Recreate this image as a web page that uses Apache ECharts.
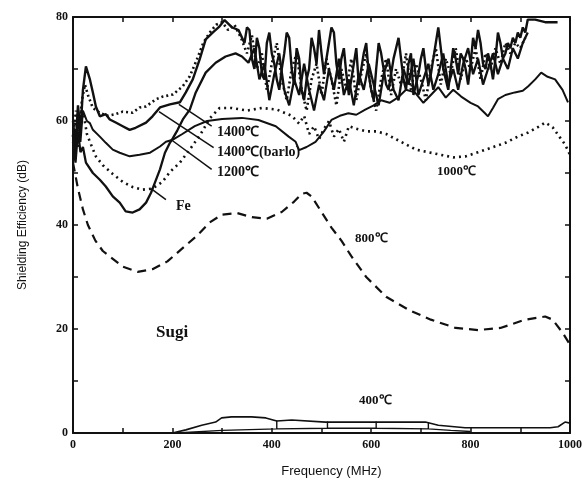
<!DOCTYPE html>
<html>
<head>
<meta charset="utf-8">
<script src="https://cdn.jsdelivr.net/npm/echarts@6/dist/echarts.min.js"></script>
<style>
html, body { margin: 0; padding: 0; background: #fff; }
#chart { width: 585px; height: 487px; }
</style>
</head>
<body>
<div id="chart"></div>
<script>
// 1400℃ (solid, top of band)
const f1400 = [0,5,10,15,20,26,34,40,46,54,66,74,86,100,114,126,147,160,175,195,215,227,241,255,267,281,295,305,320,333,
    345,350,355,360,365,370,375,380,385,390,395,400,405,410,415,420,425,430,435,440,445,450,455,460,465,470,475,480,485,490,495,
    500,505,510,515,520,525,530,535,540,545,550,555,560,565,570,575,580,585,590,595,600,605,610,615,620,625,630,635,640,645,
    650,655,660,665,670,675,680,685,690,695,700,705,710,715,720,725,730,735,740,745,750,755,760,765,770,775,780,785,790,795,
    800,805,810,815,820,825,830,835,840,845,850,855,860,865,870,875,880,885,890,895,900,905,910,915,930,950,975];
const db1400 = [60,55,63,58,66,70.5,68,65.5,62.8,60.9,61.3,60.3,59.7,59,58.3,58.7,59.7,60.9,62.6,63.2,63.6,65.5,68,71.9,75.7,77,78.2,79.4,78,77.5,
    75,78,77.5,72,70,76,74,69,68,75,77,73,71,68,66,70,73,77,76,70,67,74,72,66,64,68,70,76,74,71,77.5,
    73,69,72,75,78,77,71,68,72,74,69,65,68,71,74,67,70,73,75,69,66,64,70,75,73,70,67,66,69,72,
    74,76,72,68,66,71,73,65,67,69,72,74,70,67,69,72,75,78,74,70,68,66,70,74,72,69,73,72,70,67,
    71,76,74,77.5,75,71,70,73,71,68,72,77,75,72,73,75,74,76,75,77,76,78,77,79.5,79.5,79,79];

// 1400℃(barlo) (dotted)
const fBarlo = [0,6,12,18,24,30,40,55,70,85,100,120,134,147,167,181,201,221,235,250,262,275,288,300,312,325,338,350,360,370,380,390,400,410,420,430,440,450,460,470,480,490,500,510,520,530,540,550,560,570,580,590,600,610,620,630,640,650,660,670,680,690,700,710,720,730,740,750,760,770,780,790,800,810,820,830,840,850,860,870,880,890,900,910];
const dbBarlo = [57,62,58,64,67,65,62.5,61.5,61,61.3,61.8,61.6,62.6,62.8,64.2,64.7,65.1,66.7,68.6,72,75,77,78.5,79,77.5,78.5,76,73,76.5,70,73,66,71,75,68,64,70,73,66,62,68,71,65,72,68,63,70,66,72,64,69,73,66,62,68,72,65,70,67,73,66,71,68,64,70,74,67,72,69,74,68,72,70,74,68,73,70,74,71,75,73,75,74,76];

// 1200℃ (solid)
const f1200 = [0,5,10,15,20,28,34,40,54,66,80,94,114,134,155,175,187,201,220,245,270,300,340,373,408,434,448,455,470,488,505,520,537,554,570,588,605,620,637,655,670,688,705,720,735,750,765,781,800,815,829,835,845,855,870,889,905,916,930,942,955,970,985,996];
const db1200 = [59,54,61,56,62,60,59.6,58.3,57,55.8,54.5,53.9,53.2,53.5,53.9,55.1,56,56.4,57.5,59,60,60.4,60.6,60.2,59,57,56,54.4,55,56,58,60.2,61,61.5,61.2,62.2,63,64,63.5,64.6,66,65.5,63.5,65,66.5,64.5,66,64.7,63.5,62.8,61.5,60.9,62.5,64.2,65,65.5,65.8,66.7,68,69.3,68.5,68,66,63.6];

// Fe (solid)
const fFe = [0,5,10,15,20,26,40,54,66,80,94,106,120,134,147,157,165,175,185,195,201,210,221,235,247,267,287,307,327,340,353,365,375,385,395,405,415,425,435,445,455,465,475,485,495,505,515,525,535,545,555,565,575,585,595,605,615,625,635,645,655,665,675,685,695,705,715,725,735,745,755,765,775,785,795,805,815,825,835,845,855,865,875,885,895,905,915];
const dbFe = [56,52,58,54,55,52,50,48.7,47.4,45.5,44.3,42.6,42.4,43,44.3,46.2,48.2,50.7,53.9,55.8,56.7,58.2,60.3,62.2,65.5,69.3,71.2,72.4,73,72.4,71.2,74,68,71,64,69,73,66,63,68,65,71,66,62,67,64,70,66,72,65,68,63,69,66,71,67,63,69,72,66,64,70,67,72,65,68,71,66,69,73,67,70,66,71,74,69,72,67,70,73,69,72,70,74,72,75,77];

// 1000℃ (dotted)
const f1000 = [0,5,10,16,22,28,34,46,60,80,100,120,140,160,180,195,215,235,257,275,295,320,350,380,410,440,455,465,475,485,495,505,515,525,535,545,555,570,590,610,630,650,670,690,715,740,765,790,815,840,870,895,916,935,950,965,980,990,1000];
const db1000 = [57,60,55,62,61,57.5,56,53.2,51.5,49.8,48.3,47.3,46.8,47,48.3,50.2,52,54.5,57.5,60.5,62.5,62.5,62,62.5,62.2,61,59.5,61,57.5,59,56.5,58.5,60,57,58.5,56,59,58.5,58,58,57.5,56.5,55.5,54.5,54,53.5,53,53.2,54,54.8,55.8,57,57.8,58.8,59.7,58.8,56.8,55.5,53.5];

// 800℃ (dashed)
const f800 = [0,10,20,30,45,60,80,100,130,160,190,220,250,275,300,330,360,390,420,445,460,470,480,500,520,540,560,590,630,675,720,770,815,860,910,950,965,985,1000];
const db800 = [52,47,43,40,37,35,33.5,32,31,31.5,33,35.5,38,40.5,42,42.3,41.5,41.2,42.5,44.5,46,46.2,45.5,42.5,39.5,37,34,30,26.2,23.7,21.8,20.2,19.8,20.2,21.8,22.4,21.8,19.3,17];

// 400℃ (solid, upper edge and lower edge of the band)
const f400 = [200,227,259,287,299,319,359,388,410,440,508,574,608,635,709,735,789,960,976,990,1000];
const db400 = [0,0.6,1.5,2.1,2.9,3.1,3.1,2.9,2.3,2.5,2.1,2.1,2.1,2.1,2.1,1.5,1,1,1.2,2.1,1.9];
const f400lo = [207,300,410,410,410,512,512,512,610,610,610,715,715,715,760,800];
const db400lo = [0,0.5,0.8,2.4,0.8,0.9,2.2,0.9,0.9,2.2,0.9,0.8,2.1,0.8,0.5,0.3];

const xTicks = [0,200,400,600,800,1000];
const yTicks = [0,20,40,60,80];

// leader lines from labels to curves, [from, to] in data units
const leaders = [
    [[279,59],[213,63.2]],
    [[283,54.9],[173,61.8]],
    [[279,50.7],[199,56.3]],
    [[187,44.9],[157,47]]
];

function pairs(xs, ys) {
    return xs.map((x, i) => [x, ys[i]]);
}

const chart = echarts.init(document.getElementById('chart'));
const ink = '#111';
const labFont = { fontFamily: 'Liberation Serif', fontWeight: 'bold', fontSize: 13, fill: ink };

function lineSeries(name, data, type, width) {
    return {
        name: name,
        type: 'line',
        data: data,
        symbol: 'none',
        showSymbol: false,
        silent: true,
        lineStyle: { color: ink, width: width, type: type },
        z: 3
    };
}

const series = [
    lineSeries('1400℃', pairs(f1400, db1400), 'solid', 2.4),
    lineSeries('1400℃(barlo)', pairs(fBarlo, dbBarlo), [2, 3], 2.6),
    lineSeries('1200℃', pairs(f1200, db1200), 'solid', 2),
    lineSeries('Fe', pairs(fFe, dbFe), 'solid', 2.3),
    lineSeries('1000℃', pairs(f1000, db1000), [2, 4], 2.6),
    lineSeries('800℃', pairs(f800, db800), [9, 6], 2.2),
    lineSeries('400℃', pairs(f400, db400), 'solid', 1.6),
    lineSeries('400℃ low', pairs(f400lo, db400lo), 'solid', 1.4)
];
series[3].markLine = {
    silent: true,
    symbol: 'none',
    label: { show: false },
    lineStyle: { color: ink, width: 1.5, type: 'solid' },
    data: leaders.map(l => [{ coord: l[0] }, { coord: l[1] }])
};

const axisCommon = {
    axisLine: { show: true, onZero: false, lineStyle: { color: ink, width: 2 } },
    axisTick: { show: true, inside: true, length: 5, lineStyle: { color: ink, width: 1.5 } },
    minorTick: { show: true, splitNumber: 2, length: 5, lineStyle: { color: ink, width: 1.5 } },
    splitLine: { show: false }
};

const option = {
    animation: false,
    backgroundColor: '#fff',
    grid: { left: 73, right: 13, top: 17, bottom: 54 },
    xAxis: [
        Object.assign({
            type: 'value', min: 0, max: 1000, interval: 200, position: 'bottom',
            name: 'Frequency (MHz)', nameLocation: 'middle', nameGap: 32,
            nameTextStyle: { fontFamily: 'Liberation Sans', fontSize: 13, color: ink, padding: [0, 0, 0, 20] },
            axisLabel: {
                fontFamily: 'Liberation Serif', fontWeight: 'bold', fontSize: 12, color: ink, margin: 6,
                formatter: v => xTicks.includes(v) ? String(v) : ''
            }
        }, axisCommon),
        Object.assign({
            type: 'value', min: 0, max: 1000, interval: 200, position: 'top',
            axisLabel: { show: false }
        }, axisCommon)
    ],
    yAxis: [
        Object.assign({
            type: 'value', min: 0, max: 80, interval: 20, position: 'left',
            name: 'Shielding Efficiency (dB)', nameLocation: 'middle', nameGap: 44,
            nameTextStyle: { fontFamily: 'Liberation Sans', fontSize: 12, color: ink },
            axisLabel: {
                fontFamily: 'Liberation Serif', fontWeight: 'bold', fontSize: 12, color: ink, margin: 5,
                formatter: v => yTicks.includes(v) ? String(v) : ''
            }
        }, axisCommon),
        Object.assign({
            type: 'value', min: 0, max: 80, interval: 20, position: 'right',
            axisLabel: { show: false }
        }, axisCommon)
    ],
    series: series,
    graphic: [
        { type: 'text', left: 217, top: 125, style: Object.assign({ text: '1400℃' }, labFont, { fontSize: 14 }) },
        { type: 'text', left: 217, top: 145, style: Object.assign({ text: '1400℃(barlo)' }, labFont, { fontSize: 14 }) },
        { type: 'text', left: 217, top: 165, style: Object.assign({ text: '1200℃' }, labFont, { fontSize: 14 }) },
        { type: 'text', left: 176, top: 199, style: Object.assign({ text: 'Fe' }, labFont, { fontSize: 14 }) },
        { type: 'text', left: 437, top: 165, style: Object.assign({ text: '1000℃' }, labFont) },
        { type: 'text', left: 355, top: 232, style: Object.assign({ text: '800℃' }, labFont) },
        { type: 'text', left: 156, top: 324, style: Object.assign({ text: 'Sugi' }, labFont, { fontSize: 17 }) },
        { type: 'text', left: 359, top: 394, style: Object.assign({ text: '400℃' }, labFont) }
    ]
};

chart.setOption(option);
</script>
</body>
</html>
